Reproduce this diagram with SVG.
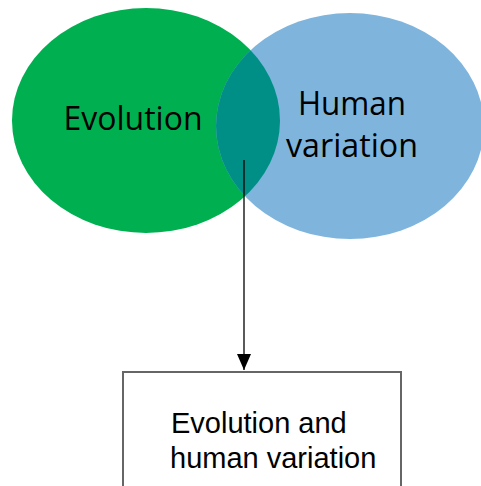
<svg xmlns="http://www.w3.org/2000/svg" width="481" height="486" viewBox="0 0 481 486">
  <style>
    .set-label { font-family: "Open Sans", "Liberation Sans", sans-serif; font-size: 32px; fill: #000; }
    .box-label { font-family: "Liberation Sans", Arial, sans-serif; font-size: 29px; fill: #000; }
    .box { fill: #fff; stroke: #666; stroke-width: 2; }
    .edge { stroke: #000; stroke-width: 1.3; fill: none; }
  </style>
  <defs>
    <clipPath id="green-clip">
      <ellipse cx="146" cy="120.5" rx="134" ry="112.5"/>
    </clipPath>
    <marker id="arrow" viewBox="0 0 16 14" refX="16" refY="7" markerWidth="16" markerHeight="14" markerUnits="userSpaceOnUse" orient="auto">
      <path d="M0,0 L16,7 L0,14 Z" fill="#000"/>
    </marker>
  </defs>
  <rect width="481" height="486" fill="#fff"/>

  <g id="evolution">
    <ellipse cx="146" cy="120.5" rx="134" ry="112.5" fill="#00B050"/>
    <text class="set-label" x="133" y="130" text-anchor="middle" textLength="139" lengthAdjust="spacingAndGlyphs">Evolution</text>
  </g>

  <g id="human-variation">
    <ellipse cx="350" cy="126" rx="134" ry="113" fill="#7FB5DD"/>
    <!-- overlap of the two sets -->
    <ellipse cx="350" cy="126" rx="134" ry="113" fill="#008F86" clip-path="url(#green-clip)"/>
    <text class="set-label" x="352" y="115" text-anchor="middle" textLength="108" lengthAdjust="spacingAndGlyphs">Human</text>
    <text class="set-label" x="352" y="157" text-anchor="middle" textLength="132" lengthAdjust="spacingAndGlyphs">variation</text>
  </g>

  <g id="connectors">
    <line class="edge" x1="244" y1="160" x2="244" y2="370" marker-end="url(#arrow)"/>
  </g>

  <g id="combined">
    <rect class="box" x="123" y="372" width="278" height="130"/>
    <text class="box-label" x="171" y="433">Evolution and</text>
    <text class="box-label" x="170" y="468">human variation</text>
  </g>
</svg>
